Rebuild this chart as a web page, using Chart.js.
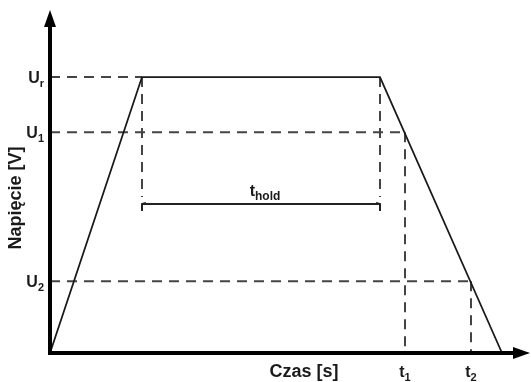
<!DOCTYPE html>
<html>
<head>
<meta charset="utf-8">
<script src="https://cdn.jsdelivr.net/npm/chart.js@4"></script>
<style>
  body { margin: 0; background: #fff; }
  canvas { display: block; }
</style>
</head>
<body>
<canvas id="chart" width="531" height="382"></canvas>
<script>
// waveform (time in arbitrary units, voltage in % of Ur)
const times = [0, 92, 330, 452];
const volts = [0, 100, 100, 0];

// voltage levels: Ur, U1, U2
const levelSubs = ["r", "1", "2"];
const levelValues = [100, 80, 26];
// where each level's dashed guide ends on the time axis
const levelEnds = [92, 355, 421];

// time ticks t1, t2
const timeSubs = ["1", "2"];
const timeValues = [355, 421];
const timeLevels = [80, 26];

// hold interval
const holdStart = 92;
const holdEnd = 330;
const holdArrowLevel = 54;
const holdGuideBottom = 56.5;

const TEXT = "#1a1a1a";
const DASH = "#444";
const FONT = "'Liberation Sans', Arial, sans-serif";

function dashed(points) {
    return {
        data: points,
        borderColor: DASH,
        borderWidth: 2,
        borderDash: [10, 7],
        pointRadius: 0,
        fill: false,
        clip: false
    };
}

const datasets = [{
    data: times.map((t, i) => ({ x: t, y: volts[i] })),
    borderColor: "#1a1a1a",
    borderWidth: 1.8,
    pointRadius: 0,
    tension: 0,
    fill: false,
    clip: false
}];

levelValues.forEach((v, i) => {
    datasets.push(dashed([{ x: 0, y: v }, { x: levelEnds[i], y: v }]));
});
timeValues.forEach((t, i) => {
    datasets.push(dashed([{ x: t, y: timeLevels[i] }, { x: t, y: 0 }]));
});
[holdStart, holdEnd].forEach(t => {
    datasets.push(dashed([{ x: t, y: 100 }, { x: t, y: holdGuideBottom }]));
});
datasets.push({
    data: [{ x: holdStart, y: holdArrowLevel }, { x: holdEnd, y: holdArrowLevel }],
    borderColor: "#222",
    borderWidth: 1.8,
    pointRadius: 0,
    fill: false,
    clip: false
});

function subText(ctx, main, sub, x, y, align, size, subSize) {
    ctx.font = "bold " + size + "px " + FONT;
    const w1 = ctx.measureText(main).width;
    ctx.font = "bold " + subSize + "px " + FONT;
    const w2 = ctx.measureText(sub).width;
    let left = x;
    if (align === "right") left = x - w1 - w2;
    if (align === "center") left = x - (w1 + w2) / 2;
    ctx.textAlign = "left";
    ctx.textBaseline = "alphabetic";
    ctx.font = "bold " + size + "px " + FONT;
    ctx.fillText(main, left, y);
    ctx.font = "bold " + subSize + "px " + FONT;
    ctx.fillText(sub, left + w1, y + 4);
}

const decorations = {
    id: "decorations",
    afterDatasetsDraw(chart) {
        const ctx = chart.ctx;
        const xs = chart.scales.x;
        const ys = chart.scales.y;
        const x0 = xs.getPixelForValue(0);
        const y0 = ys.getPixelForValue(0);
        const area = chart.chartArea;
        ctx.save();
        ctx.fillStyle = "#000";
        ctx.strokeStyle = "#000";
        ctx.lineWidth = 4;
        ctx.lineCap = "butt";

        // y axis with arrow
        ctx.beginPath();
        ctx.moveTo(x0, y0 + 2);
        ctx.lineTo(x0, area.top + 14);
        ctx.stroke();
        ctx.beginPath();
        ctx.moveTo(x0, area.top);
        ctx.lineTo(x0 - 6, area.top + 17);
        ctx.lineTo(x0 + 6, area.top + 17);
        ctx.closePath();
        ctx.fill();

        // x axis with arrow
        ctx.beginPath();
        ctx.moveTo(x0 - 2, y0);
        ctx.lineTo(area.right - 14, y0);
        ctx.stroke();
        ctx.beginPath();
        ctx.moveTo(area.right, y0);
        ctx.lineTo(area.right - 17, y0 - 6);
        ctx.lineTo(area.right - 17, y0 + 6);
        ctx.closePath();
        ctx.fill();

        // small hooks at the ends of the hold arrow
        const hy = ys.getPixelForValue(holdArrowLevel);
        const hx1 = xs.getPixelForValue(holdStart);
        const hx2 = xs.getPixelForValue(holdEnd);
        ctx.strokeStyle = "#222";
        ctx.lineWidth = 2;
        ctx.beginPath();
        ctx.moveTo(hx1 + 4, hy - 1);
        ctx.lineTo(hx1, hy);
        ctx.lineTo(hx1, hy + 7);
        ctx.moveTo(hx2 - 4, hy - 1);
        ctx.lineTo(hx2, hy);
        ctx.lineTo(hx2, hy + 7);
        ctx.stroke();

        // labels
        ctx.fillStyle = TEXT;
        levelValues.forEach((v, i) => {
            subText(ctx, "U", levelSubs[i], x0 - 6, ys.getPixelForValue(v) + 6, "right", 16, 11);
        });
        timeValues.forEach((t, i) => {
            subText(ctx, "t", timeSubs[i], xs.getPixelForValue(t), y0 + 24, "center", 16, 11);
        });
        subText(ctx, "t", "hold", (hx1 + hx2) / 2 + 4, hy - 8, "center", 16, 12);

        ctx.font = "bold 18px " + FONT;
        ctx.textAlign = "center";
        ctx.textBaseline = "alphabetic";
        ctx.fillText("Czas [s]", 304, y0 + 24);

        ctx.save();
        ctx.translate(21, 198);
        ctx.rotate(-Math.PI / 2);
        ctx.fillText("Napięcie [V]", 0, 0);
        ctx.restore();

        ctx.restore();
    }
};

new Chart(document.getElementById("chart"), {
    type: "line",
    data: { datasets: datasets },
    options: {
        responsive: false,
        animation: false,
        devicePixelRatio: 1,
        layout: { padding: { left: 50, right: 1, top: 10, bottom: 29 } },
        plugins: { legend: { display: false }, tooltip: { enabled: false } },
        scales: {
            x: { type: "linear", min: 0, max: 480, display: false },
            y: { type: "linear", min: 0, max: 124.3, display: false }
        }
    },
    plugins: [decorations]
});
</script>
</body>
</html>
